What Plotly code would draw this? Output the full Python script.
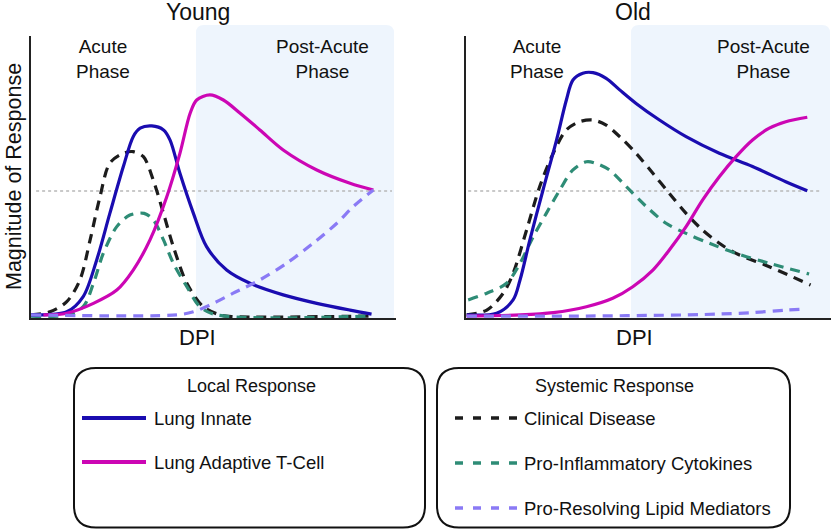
import plotly.graph_objects as go

W, H = 832, 529

# ---------------- data (X: relative DPI 0-100, Y: magnitude 0-100) ----------------
# Young
y_innate_x = [0, 9.8, 14.3, 18.0, 21.6, 25.3, 28.0, 29.9, 33.1, 36.3, 38.1, 40.8, 44.5, 48.1, 53.6, 60.0, 69.1, 78.3, 87.4, 93.3]
y_innate_y = [1.1, 2.2, 7.6, 20.6, 37.1, 53.7, 64.3, 67.3, 68.1, 66.7, 63.1, 51.3, 37.1, 25.3, 17.0, 12.3, 8.2, 5.2, 2.8, 1.4]

y_adapt_x = [3.4, 9.8, 17.1, 23.5, 28.0, 32.6, 37.2, 40.8, 43.6, 45.4, 49.0, 52.7, 57.3, 62.7, 69.1, 78.3, 87.4, 93.8]
y_adapt_y = [1.1, 1.7, 5.2, 9.9, 17.0, 27.7, 43.0, 58.4, 72.6, 77.3, 79.1, 77.3, 72.6, 66.7, 59.6, 52.5, 47.8, 45.4]

y_clin_x = [0, 5.2, 9.8, 13.4, 16.2, 18.9, 21.6, 25.3, 28.0, 30.8, 33.5, 36.3, 39.0, 42.7, 47.2, 51.8, 55.4, 92.9]
y_clin_y = [1.1, 2.2, 5.8, 13.5, 27.7, 43.0, 54.9, 58.4, 59.0, 57.2, 48.9, 37.1, 25.3, 12.3, 4.0, 1.1, 0.5, 0.7]

y_cyto_x = [0, 9.8, 14.3, 17.1, 19.8, 23.5, 27.1, 31.0, 33.5, 36.3, 39.0, 42.7, 46.3, 50.9, 93.3]
y_cyto_y = [0.7, 1.1, 4.0, 12.3, 22.9, 32.4, 36.5, 37.1, 34.8, 27.7, 19.4, 11.1, 4.0, 1.1, 0.7]

y_lipid_x = [0, 39.9, 44.5, 49.0, 55.4, 62.7, 70.0, 77.3, 83.8, 88.3, 93.8]
y_lipid_y = [1.1, 1.1, 2.2, 4.6, 8.8, 13.5, 19.4, 26.5, 33.6, 39.5, 45.4]

# Old
o_innate_x = [0.2, 8.4, 12.9, 14.8, 17.5, 21.1, 24.8, 27.5, 29.3, 32.0, 34.8, 38.4, 42.1, 46.6, 53.0, 60.3, 69.4, 78.5, 87.6, 93.5]
o_innate_y = [1.1, 1.7, 6.4, 13.5, 27.7, 45.4, 63.1, 77.3, 84.4, 86.8, 87.0, 85.0, 80.9, 76.1, 70.2, 64.3, 58.4, 53.7, 48.3, 45.1]

o_adapt_x = [0.2, 14.8, 23.9, 33.0, 40.2, 45.7, 51.2, 55.7, 60.3, 64.8, 69.4, 74.0, 78.5, 83.1, 87.6, 93.5]
o_adapt_y = [0.7, 1.1, 1.9, 4.0, 7.0, 11.1, 17.0, 24.1, 32.4, 41.8, 50.1, 57.2, 63.1, 67.3, 69.6, 71.2]

o_clin_x = [0.2, 5.7, 10.2, 12.9, 16.6, 20.2, 23.9, 27.5, 31.1, 34.8, 38.4, 42.1, 46.6, 51.2, 55.7, 60.3, 64.8, 69.4, 74.0, 83.1, 94.4]
o_clin_y = [1.1, 2.8, 8.8, 15.8, 31.2, 46.6, 58.4, 66.7, 69.6, 70.2, 68.4, 64.3, 58.4, 51.3, 44.2, 37.1, 31.2, 26.5, 22.9, 18.2, 11.7]

o_cyto_x = [0.6, 5.7, 11.1, 14.8, 18.4, 22.0, 25.7, 29.3, 33.0, 35.7, 39.3, 43.9, 49.4, 54.8, 60.3, 66.7, 74.0, 83.1, 94.0]
o_cyto_y = [6.4, 8.8, 12.3, 19.4, 28.8, 37.1, 45.4, 52.5, 55.4, 54.8, 52.5, 46.6, 39.5, 33.6, 30.0, 26.5, 22.9, 19.4, 15.6]

o_lipid_x = [0.2, 33.0, 60.3, 69.4, 78.5, 87.6, 91.7]
o_lipid_y = [0.7, 0.7, 1.1, 1.4, 1.9, 2.8, 3.1]

# reference level (dotted line)
ref_level = 45.0
ref_young_x = [1.4, 98.9]
ref_old_x = [0.6, 97.5]

panel_titles = ["Young", "Old"]
phase_labels = ["Acute<br>Phase", "Post-Acute<br>Phase"]
local_names = ["Lung Innate", "Lung Adaptive T-Cell"]
systemic_names = ["Clinical Disease", "Pro-Inflammatory Cytokines", "Pro-Resolving Lipid Mediators"]

# ---------------- styles ----------------
C_INNATE = "#1a0cb0"
C_ADAPT = "#cc06b4"
C_CLIN = "#1c1c1c"
C_CYTO = "#2e8c76"
C_LIPID = "#8a7af5"
C_SHADE = "#eef5fd"
FONT = "Arial, Liberation Sans, Helvetica, sans-serif"
CURVE_DASH = "10px,7px"
LW = 3.2

fig = go.Figure()


def add_curve(x, y, color, dash, xa, ya, name):
    fig.add_trace(go.Scatter(
        x=x, y=y, mode="lines", name=name, showlegend=False, hoverinfo="skip",
        line=dict(color=color, width=LW, dash=dash, shape="spline", smoothing=0.9),
        xaxis=xa, yaxis=ya))


for xa, ya, refx in [("x", "y", ref_young_x), ("x2", "y2", ref_old_x)]:
    fig.add_trace(go.Scatter(x=refx, y=[ref_level, ref_level], mode="lines", showlegend=False,
                             hoverinfo="skip", line=dict(color="#b8b8b8", width=1.5, dash="3px,3px"),
                             xaxis=xa, yaxis=ya))

add_curve(y_clin_x, y_clin_y, C_CLIN, CURVE_DASH, "x", "y", systemic_names[0])
add_curve(y_cyto_x, y_cyto_y, C_CYTO, CURVE_DASH, "x", "y", systemic_names[1])
add_curve(y_innate_x, y_innate_y, C_INNATE, "solid", "x", "y", local_names[0])
add_curve(y_adapt_x, y_adapt_y, C_ADAPT, "solid", "x", "y", local_names[1])
add_curve(y_lipid_x, y_lipid_y, C_LIPID, CURVE_DASH, "x", "y", systemic_names[2])

add_curve(o_clin_x, o_clin_y, C_CLIN, CURVE_DASH, "x2", "y2", systemic_names[0])
add_curve(o_cyto_x, o_cyto_y, C_CYTO, CURVE_DASH, "x2", "y2", systemic_names[1])
add_curve(o_innate_x, o_innate_y, C_INNATE, "solid", "x2", "y2", local_names[0])
add_curve(o_adapt_x, o_adapt_y, C_ADAPT, "solid", "x2", "y2", local_names[1])
add_curve(o_lipid_x, o_lipid_y, C_LIPID, CURVE_DASH, "x2", "y2", systemic_names[2])


# ---------------- layout helpers (pixel -> paper) ----------------
def PX(p):
    return p / W


def PY(p):
    return 1 - p / H


def rrect_path(x0, y0, x1, y1, r, top_only=False):
    s = (f"M {PX(x0)},{PY(y0 + r)} Q {PX(x0)},{PY(y0)} {PX(x0 + r)},{PY(y0)} "
         f"L {PX(x1 - r)},{PY(y0)} Q {PX(x1)},{PY(y0)} {PX(x1)},{PY(y0 + r)} ")
    if top_only:
        s += f"L {PX(x1)},{PY(y1)} L {PX(x0)},{PY(y1)} Z"
    else:
        s += (f"L {PX(x1)},{PY(y1 - r)} Q {PX(x1)},{PY(y1)} {PX(x1 - r)},{PY(y1)} "
              f"L {PX(x0 + r)},{PY(y1)} Q {PX(x0)},{PY(y1)} {PX(x0)},{PY(y1 - r)} Z")
    return s


shapes = []
# post-acute shading
for x0, x1 in [(196, 394), (631, 830)]:
    shapes.append(dict(type="path", xref="paper", yref="paper", layer="below",
                       path=rrect_path(x0, 25, x1, 318, 8, top_only=True),
                       fillcolor=C_SHADE, line=dict(width=0)))
# legend boxes
for x0, x1 in [(74, 425), (437, 790)]:
    shapes.append(dict(type="path", xref="paper", yref="paper",
                       path=rrect_path(x0, 368, x1, 527.5, 22),
                       fillcolor="white", line=dict(color="#111", width=2)))
# legend samples
for yy, col in zip([418, 462], [C_INNATE, C_ADAPT]):
    shapes.append(dict(type="line", xref="paper", yref="paper",
                       x0=PX(82), x1=PX(146), y0=PY(yy), y1=PY(yy),
                       line=dict(color=col, width=4)))
for yy, col in zip([418, 463, 508], [C_CLIN, C_CYTO, C_LIPID]):
    shapes.append(dict(type="line", xref="paper", yref="paper",
                       x0=PX(455), x1=PX(519), y0=PY(yy), y1=PY(yy),
                       line=dict(color=col, width=3.5, dash="8px,10px")))

ann = []


def text(px, py, s, size, xanchor="center", angle=0):
    ann.append(dict(x=PX(px), y=PY(py), xref="paper", yref="paper", text=s, showarrow=False,
                    xanchor=xanchor, yanchor="middle", textangle=angle, borderpad=0,
                    font=dict(family=FONT, size=size, color="#111")))


text(198, 12, panel_titles[0], 23)
text(633, 12, panel_titles[1], 23)
text(103, 59, phase_labels[0], 19)
text(322, 59, phase_labels[1], 19)
text(537, 59, phase_labels[0], 19)
text(763, 59, phase_labels[1], 19)
text(14, 177, "Magnitude of Response", 21.5, angle=-90)
text(197, 337, "DPI", 22)
text(634, 337, "DPI", 22)
text(251, 386, "Local Response", 18)
text(614, 386, "Systemic Response", 18)
for yy, s in zip([418, 462], local_names):
    text(153, yy, s, 18.5, xanchor="left")
for yy, s in zip([418, 463, 508], systemic_names):
    text(523, yy, s, 18.5, xanchor="left")

ax_common = dict(range=[0, 100], showgrid=False, zeroline=False, showticklabels=False,
                 ticks="", showline=True, linecolor="#222", linewidth=2, fixedrange=True)
ydom = [(H - 318) / H, (H - 36) / H]

fig.update_layout(
    width=W, height=H, margin=dict(l=0, r=0, t=0, b=0),
    paper_bgcolor="white", plot_bgcolor="rgba(0,0,0,0)",
    showlegend=False,
    xaxis=dict(domain=[31 / W, 396 / W], anchor="y", **ax_common),
    yaxis=dict(domain=ydom, anchor="x", **ax_common),
    xaxis2=dict(domain=[466 / W, 831 / W], anchor="y2", **ax_common),
    yaxis2=dict(domain=ydom, anchor="x2", **ax_common),
    shapes=shapes, annotations=ann,
)

fig.write_html("out.html", config={"displayModeBar": False},
               post_script="document.body.style.margin='0';document.body.style.overflow='hidden';")
